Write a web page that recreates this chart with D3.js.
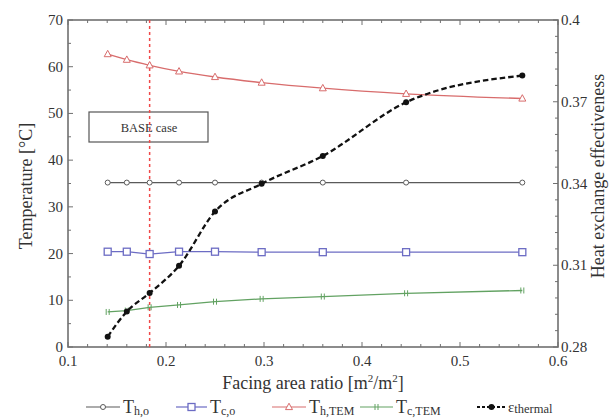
<!DOCTYPE html>
<html><head><meta charset="utf-8">
<script src="https://cdn.jsdelivr.net/npm/d3@7"></script>
<style>body{margin:0;background:#fff}svg{display:block}</style>
</head><body><svg id="c" width="614" height="418"></svg>
<script>
const xRatio = [0.1405, 0.16, 0.1833, 0.2133, 0.25, 0.2976, 0.36, 0.445, 0.5636];
const Tho = [35.2, 35.2, 35.2, 35.2, 35.2, 35.2, 35.2, 35.2, 35.2];
const Tco = [20.4, 20.4, 19.9, 20.4, 20.4, 20.3, 20.3, 20.3, 20.3];
const ThTEM = [62.7, 61.5, 60.3, 59.0, 57.8, 56.6, 55.4, 54.2, 53.2];
const TcTEM = [7.5, 7.8, 8.5, 9.0, 9.7, 10.3, 10.8, 11.5, 12.1];
const eps = [0.2838, 0.2930, 0.2998, 0.3098, 0.3297, 0.3399, 0.3501, 0.3698, 0.3796];
const xTicks = [0.1, 0.2, 0.3, 0.4, 0.5, 0.6];
const yTicks = [0, 10, 20, 30, 40, 50, 60, 70];
const y2Ticks = [0.28, 0.31, 0.34, 0.37, 0.4];
const baseCase = 0.1833;

const FONT = "'Liberation Serif', 'Times New Roman', serif";
const svg = d3.select("#c");
const L = 68, R = 558, T = 20, B = 347;
const x = d3.scaleLinear().domain([0.1, 0.6]).range([L, R]);
const y = d3.scaleLinear().domain([0, 70]).range([B, T]);
const y2 = d3.scaleLinear().domain([0.28, 0.4]).range([B, T]);
const axisCol = "#707070";
const txtCol = "#333";

function txt(sel, xx, yy, size, anchor) {
  return sel.append("text").attr("x", xx).attr("y", yy).attr("font-size", size)
    .attr("font-family", FONT).attr("fill", txtCol).attr("text-anchor", anchor || "start");
}

const xMinor = d3.range(0.1, 0.6001, 0.02);
const yMinor = d3.range(0, 70.001, 5);
const y2Minor = d3.range(0.28, 0.40001, 0.006);

const g = svg.append("g");
xMinor.forEach(v => {
  const big = xTicks.some(t => Math.abs(t - v) < 1e-6);
  const len = big ? 5 : 3;
  g.append("line").attr("x1", x(v)).attr("x2", x(v)).attr("y1", B).attr("y2", B - len).attr("stroke", axisCol);
  g.append("line").attr("x1", x(v)).attr("x2", x(v)).attr("y1", T).attr("y2", T + len).attr("stroke", axisCol);
});
yMinor.forEach(v => {
  const big = v % 10 === 0;
  g.append("line").attr("x1", L).attr("x2", L + (big ? 5 : 3)).attr("y1", y(v)).attr("y2", y(v)).attr("stroke", axisCol);
});
y2Minor.forEach(v => {
  const big = y2Ticks.some(t => Math.abs(t - v) < 1e-6);
  g.append("line").attr("x1", R).attr("x2", R - (big ? 5 : 3)).attr("y1", y2(v)).attr("y2", y2(v)).attr("stroke", axisCol);
});
g.append("rect").attr("x", L).attr("y", T).attr("width", R - L).attr("height", B - T)
  .attr("fill", "none").attr("stroke", axisCol).attr("stroke-width", 1.6);

xTicks.forEach(v => txt(g, x(v), 366, 15, "middle").text(v.toFixed(1)));
yTicks.forEach(v => txt(g, 63, y(v) + 5, 15, "end").text(v));
y2Ticks.forEach(v => txt(g, 561, y2(v) + 5, 15, "start").text(v === 0.4 ? "0.4" : v.toFixed(2)));

const xt = txt(svg, 313, 389, 18, "middle");
xt.append("tspan").text("Facing area ratio [m");
xt.append("tspan").attr("font-size", 11).attr("dy", -7).text("2");
xt.append("tspan").attr("dy", 7).text("/m");
xt.append("tspan").attr("font-size", 11).attr("dy", -7).text("2");
xt.append("tspan").attr("dy", 7).text("]");
svg.append("text").attr("transform", `translate(32,186) rotate(-90)`).attr("text-anchor", "middle")
  .attr("font-family", FONT).attr("font-size", 18).attr("fill", txtCol).text("Temperature [°C]");
svg.append("text").attr("transform", `translate(604,176) rotate(-90)`).attr("text-anchor", "middle")
  .attr("font-family", FONT).attr("font-size", 18).attr("fill", txtCol).text("Heat exchange effectiveness");

svg.append("rect").attr("x", 89).attr("y", 112).attr("width", 119).attr("height", 30).attr("fill", "#fff").attr("stroke", "#555").attr("stroke-width", 1.2);
txt(svg, 149, 132, 12.5, "middle").text("BASE case");

svg.append("line").attr("x1", x(baseCase)).attr("x2", x(baseCase)).attr("y1", T).attr("y2", B)
  .attr("stroke", "#f04848").attr("stroke-width", 1.5).attr("stroke-dasharray", "3,3");

const series = [
  { vals: Tho, color: "#5a5a5a", marker: "circle", curve: d3.curveLinear },
  { vals: Tco, color: "#6c6cc4", marker: "square", curve: d3.curveLinear },
  { vals: ThTEM, color: "#d86c6c", marker: "triangle", curve: d3.curveMonotoneX },
  { vals: TcTEM, color: "#62a262", marker: "bars", curve: d3.curveLinear },
];

function drawMarker(sel, type, cx, cy, color) {
  if (type === "circle") sel.append("circle").attr("cx", cx).attr("cy", cy).attr("r", 2.5).attr("fill", "#fff").attr("stroke", color);
  else if (type === "square") sel.append("rect").attr("x", cx - 3.5).attr("y", cy - 3.5).attr("width", 7).attr("height", 7).attr("fill", "#fff").attr("stroke", color).attr("stroke-width", 1.3);
  else if (type === "triangle") sel.append("path").attr("d", `M${cx},${cy - 3.8}L${cx + 3.5},${cy + 2.6}L${cx - 3.5},${cy + 2.6}Z`).attr("fill", "#fff").attr("stroke", color);
  else if (type === "bars") {
    sel.append("line").attr("x1", cx - 1.5).attr("x2", cx - 1.5).attr("y1", cy - 3).attr("y2", cy + 3).attr("stroke", color);
    sel.append("line").attr("x1", cx + 1.5).attr("x2", cx + 1.5).attr("y1", cy - 3).attr("y2", cy + 3).attr("stroke", color);
  } else if (type === "dot") sel.append("circle").attr("cx", cx).attr("cy", cy).attr("r", 3).attr("fill", "#111");
}

series.forEach(s => {
  const line = d3.line().x((d, i) => x(xRatio[i])).y(d => y(d)).curve(s.curve);
  svg.append("path").attr("d", line(s.vals)).attr("fill", "none").attr("stroke", s.color).attr("stroke-width", 1.3);
  s.vals.forEach((v, i) => drawMarker(svg, s.marker, x(xRatio[i]), y(v), s.color));
});
const epsLine = d3.line().x((d, i) => x(xRatio[i])).y(d => y2(d)).curve(d3.curveMonotoneX);
svg.append("path").attr("d", epsLine(eps)).attr("fill", "none").attr("stroke", "#111").attr("stroke-width", 2.3).attr("stroke-dasharray", "5.5,3");
eps.forEach((v, i) => drawMarker(svg, "dot", x(xRatio[i]), y2(v)));

const legend = [
  { x0: 86, len: 34, color: "#5a5a5a", marker: "circle", main: "T", sub: "h,o", dash: null },
  { x0: 176, len: 31, color: "#6c6cc4", marker: "square", main: "T", sub: "c,o", dash: null },
  { x0: 272, len: 34, color: "#d86c6c", marker: "triangle", main: "T", sub: "h,TEM", dash: null },
  { x0: 360, len: 33, color: "#62a262", marker: "bars", main: "T", sub: "c,TEM", dash: null },
  { x0: 477, len: 29, color: "#111", marker: "dot", main: "ε", sub: "thermal", dash: "3,2" },
];
const ly = 407;
legend.forEach(l => {
  svg.append("line").attr("x1", l.x0).attr("x2", l.x0 + l.len).attr("y1", ly).attr("y2", ly).attr("stroke", l.color)
    .attr("stroke-width", l.dash ? 1.8 : 1.2).attr("stroke-dasharray", l.dash);
  drawMarker(svg, l.marker, l.x0 + l.len / 2, ly, l.color);
  const e = l.main === "ε";
  const t = txt(svg, l.x0 + l.len + (e ? 2 : 3), ly + (e ? 5 : 6), e ? 15 : 18);
  t.append("tspan").text(l.main);
  t.append("tspan").attr("font-size", e ? 12.5 : 12).attr("dy", e ? 1 : 2).text(l.sub);
});
</script></body></html>
